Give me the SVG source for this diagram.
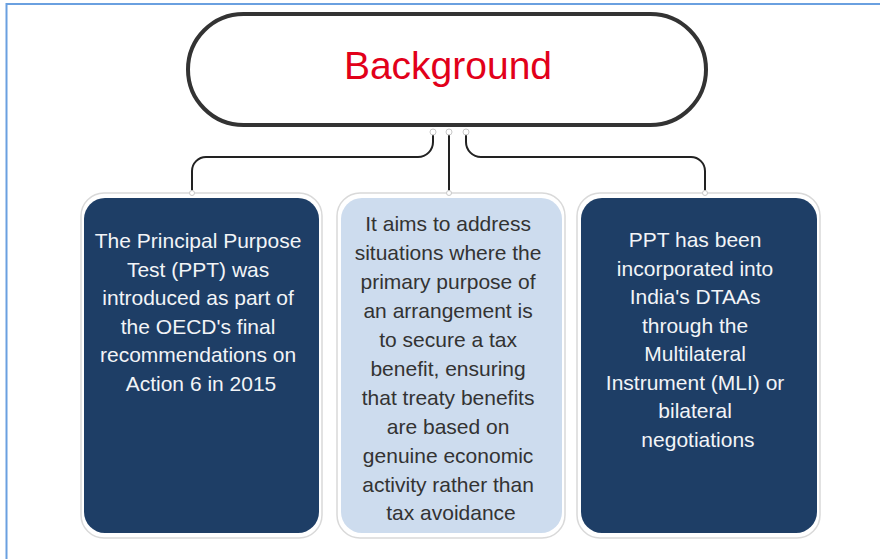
<svg xmlns="http://www.w3.org/2000/svg" width="880" height="559" viewBox="0 0 880 559">
  <style>
    .frame { fill: #ffffff; stroke: #d9d9d9; stroke-width: 1.5; }
    .dark { fill: #1e3e66; }
    .light { fill: #cddcee; }
    .txt { font-family: "Liberation Sans", Arial, sans-serif; font-size: 21px; text-anchor: middle; }
    .wt { fill: #f2f4f7; }
    .dt { fill: #333333; }
    .conn { fill: none; stroke: #222222; stroke-width: 2; }
    .dot { fill: #ffffff; stroke: #c8c8c8; stroke-width: 1; }
  </style>
  <rect x="0" y="0" width="880" height="559" fill="#ffffff"/>
  <path d="M6.5,559 V4 H880" fill="none" stroke="#6aa0e0" stroke-width="2"/>

  <g id="connectors">
    <path class="conn" d="M433,133 V142 A15,15 0 0 1 418,157 H206 A14,14 0 0 0 192,171 V192"/>
    <path class="conn" d="M449,133 V192"/>
    <path class="conn" d="M466,133 V142 A15,15 0 0 0 481,157 H691 A14,14 0 0 1 705,171 V192"/>
    <circle class="dot" cx="433" cy="132" r="3"/>
    <circle class="dot" cx="449" cy="132" r="3"/>
    <circle class="dot" cx="466" cy="132" r="3"/>
  </g>

  <g id="background">
    <rect x="188" y="14" width="518" height="111" rx="55.5" ry="55.5" fill="#ffffff" stroke="#333333" stroke-width="4"/>
    <text x="448" y="79" font-family="Liberation Sans, Arial, sans-serif" font-size="39" fill="#e2001a" text-anchor="middle">Background</text>
  </g>

  <g id="box-left">
    <rect class="frame" x="81" y="193" width="241" height="345" rx="23"/>
    <rect class="dark" x="84" y="198" width="235" height="335" rx="21"/>
    <circle class="dot" cx="192" cy="193" r="2.5"/>
    <text class="txt wt">
      <tspan x="201" y="248">The Principal Purpose</tspan>
      <tspan x="201" y="277">Test (PPT) was</tspan>
      <tspan x="201" y="305">introduced as part of</tspan>
      <tspan x="201" y="334">the OECD's final</tspan>
      <tspan x="201" y="362">recommendations on</tspan>
      <tspan x="201" y="391">Action 6 in 2015</tspan>
    </text>
  </g>

  <g id="box-middle">
    <rect class="frame" x="337" y="193" width="228" height="345" rx="23"/>
    <rect class="light" x="341" y="198" width="221" height="335" rx="21"/>
    <circle class="dot" cx="449" cy="193" r="2.5"/>
    <text class="txt dt">
      <tspan x="451" y="231">It aims to address</tspan>
      <tspan x="451" y="260">situations where the</tspan>
      <tspan x="451" y="289">primary purpose of</tspan>
      <tspan x="451" y="318">an arrangement is</tspan>
      <tspan x="451" y="347">to secure a tax</tspan>
      <tspan x="451" y="376">benefit, ensuring</tspan>
      <tspan x="451" y="405">that treaty benefits</tspan>
      <tspan x="451" y="434">are based on</tspan>
      <tspan x="451" y="463">genuine economic</tspan>
      <tspan x="451" y="492">activity rather than</tspan>
      <tspan x="451" y="520">tax avoidance</tspan>
    </text>
  </g>

  <g id="box-right">
    <rect class="frame" x="577" y="193" width="243" height="345" rx="23"/>
    <rect class="dark" x="581" y="198" width="236" height="335" rx="21"/>
    <circle class="dot" cx="705" cy="193" r="2.5"/>
    <text class="txt wt">
      <tspan x="698" y="247">PPT has been</tspan>
      <tspan x="698" y="276">incorporated into</tspan>
      <tspan x="698" y="304">India's DTAAs</tspan>
      <tspan x="698" y="333">through the</tspan>
      <tspan x="698" y="361">Multilateral</tspan>
      <tspan x="698" y="390">Instrument (MLI) or</tspan>
      <tspan x="698" y="418">bilateral</tspan>
      <tspan x="698" y="447">negotiations</tspan>
    </text>
  </g>
</svg>
